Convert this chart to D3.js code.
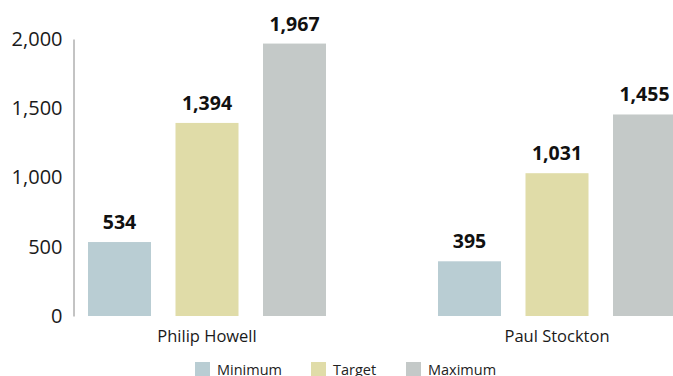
<!DOCTYPE html>
<html><head><meta charset="utf-8">
<script src="https://cdn.jsdelivr.net/npm/d3@7"></script>
<style>body{margin:0;background:#fff}svg{display:block}text{font-family:"Open Sans","Noto Sans",sans-serif}</style>
</head><body><svg id="c" width="673" height="376"></svg>
<script>
const categories = ["Philip Howell", "Paul Stockton"];
const seriesNames = ["Minimum", "Target", "Maximum"];
const minimumValues = [534, 395];
const targetValues = [1394, 1031];
const maximumValues = [1967, 1455];
const yTicks = [0, 500, 1000, 1500, 2000];
const colors = ["#b9cdd3", "#e0dca8", "#c4c9c8"];

const seriesValues = [minimumValues, targetValues, maximumValues];
const svg = d3.select("#c");
const y = d3.scaleLinear().domain([0, 2000]).range([316, 39]);
const x0 = d3.scaleBand().domain(categories).range([32, 732]).padding(0);
const x1 = d3.scaleBand().domain(seriesNames).range([0, x0.bandwidth()]).paddingInner(0.28).paddingOuter(0.64);

// axis
const yAxis = d3.axisLeft(y).tickValues(yTicks).tickSize(0).tickPadding(11).tickFormat(d3.format(","));
const ga = svg.append("g").attr("transform", "translate(73.5,0)").call(yAxis);
ga.select(".domain").attr("stroke", "#888").attr("stroke-width", 1);
ga.selectAll("text").attr("font-size", 20).attr("fill", "#1a1a1a").style("font-family", '"Open Sans","Noto Sans",sans-serif');

const groups = svg.selectAll("g.grp").data(categories).join("g").attr("class", "grp")
  .attr("transform", d => `translate(${x0(d)},0)`);

groups.each(function(cat, ci) {
  const g = d3.select(this);
  const data = seriesNames.map((s, si) => ({s, si, v: seriesValues[si][ci]}));
  g.selectAll("rect").data(data).join("rect")
    .attr("x", d => x1(d.s)).attr("width", x1.bandwidth())
    .attr("y", d => y(d.v)).attr("height", d => y(0) - y(d.v))
    .attr("fill", d => colors[d.si]);
  g.selectAll("text.val").data(data).join("text").attr("class", "val")
    .attr("x", d => x1(d.s) + x1.bandwidth() / 2).attr("y", d => y(d.v) - 13)
    .attr("text-anchor", "middle").attr("font-size", 19.5).attr("font-weight", "bold").attr("fill", "#111")
    .text(d => d3.format(",")(d.v));
  g.append("text").attr("x", x0.bandwidth() / 2).attr("y", 342)
    .attr("text-anchor", "middle").attr("font-size", 16.5).attr("fill", "#1a1a1a").text(cat);
});

// legend
const legX = d3.scaleOrdinal().domain(seriesNames).range([195, 311, 406]);
const lg = svg.selectAll("g.leg").data(seriesNames).join("g").attr("class", "leg")
  .attr("transform", d => `translate(${legX(d)},362)`);
lg.append("rect").attr("width", 15).attr("height", 15).attr("fill", (d, i) => colors[i]);
lg.append("text").attr("x", 22).attr("y", 13).attr("font-size", 14.5).attr("fill", "#222").text(d => d);
</script></body></html>
